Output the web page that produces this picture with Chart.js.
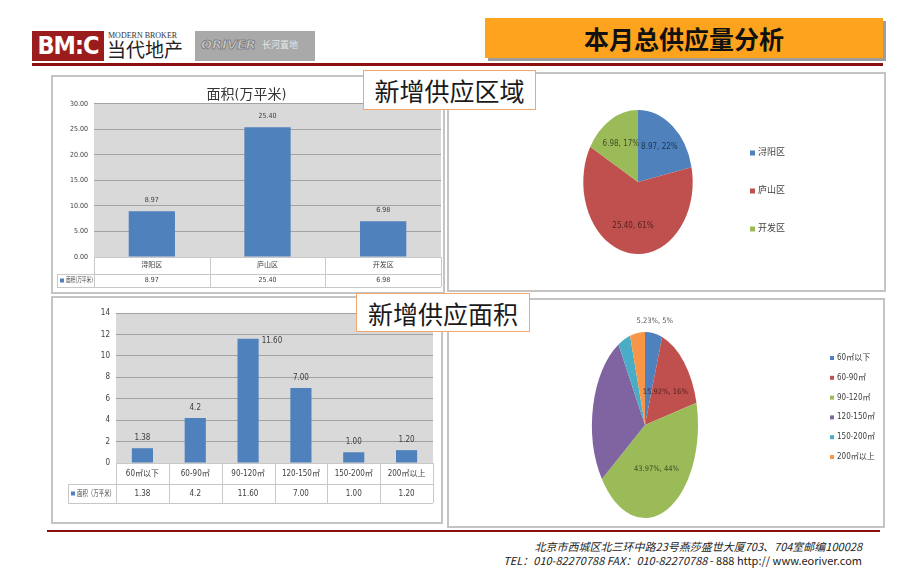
<!DOCTYPE html>
<html>
<head>
<meta charset="utf-8">
<script src="https://cdn.jsdelivr.net/npm/chart.js@4"></script>
<style>
  body { margin:0; width:920px; height:585px; background:#fff; position:relative; overflow:hidden; font-family:"Noto Sans CJK SC", sans-serif; }
  .abs { position:absolute; }
  .panel { position:absolute; border:2px solid #c4c4c4; box-sizing:border-box; background:#fff; }
  .tag { position:absolute; background:#fff; border:1px solid #f2a66b; font-size:25px; line-height:38px; text-align:center; color:#1a1a1a; box-sizing:border-box; }
  canvas { position:absolute; }
</style>
</head>
<body>
<!-- header -->
<div class="abs" style="left:32px;top:31px;width:72px;height:30px;background:#9b1c1c;color:#fff;font:bold 25px/30px 'DejaVu Sans Condensed',sans-serif;text-align:center;letter-spacing:-1px;">BM:C</div>
<div class="abs" style="left:108px;top:31px;font:8px/9px 'Liberation Serif',serif;color:#333;">MODERN BROKER</div>
<div class="abs" style="left:107px;top:38px;font:19px/22px 'Noto Sans CJK SC',sans-serif;color:#222;">当代地产</div>
<div class="abs" style="left:195px;top:31px;width:120px;height:30px;background:#a9a9a9;">
  <span class="abs" style="left:6px;top:6px;font:italic bold 13px/16px 'DejaVu Sans',sans-serif;color:#c8c8c8;-webkit-text-stroke:0.5px #555;">ORIVER</span>
  <span class="abs" style="left:67px;top:7px;font:9px/14px 'Noto Sans CJK SC',sans-serif;color:#e6e6e6;">长河置地</span>
</div>
<div class="abs" style="left:485px;top:18px;width:398px;height:40px;background:#fda31d;box-shadow:3px 3px 0 #9d9d9d;text-align:center;font:bold 25px/40px 'Noto Sans CJK SC',sans-serif;color:#111;">本月总供应量分析</div>
<div class="abs" style="left:32px;top:63px;width:851px;height:3px;background:#8c1010;"></div>

<!-- panels -->
<div class="panel" style="left:51px;top:75px;width:394px;height:219px;"></div>
<div class="panel" style="left:447px;top:72px;width:439px;height:220px;"></div>
<div class="panel" style="left:51px;top:296px;width:392px;height:228px;"></div>
<div class="panel" style="left:447px;top:298px;width:438px;height:230px;"></div>

<canvas id="barDistrict" width="392" height="216" style="left:52px;top:76px;"></canvas>
<canvas id="pieDistrict" width="437" height="218" style="left:448px;top:73px;"></canvas>
<canvas id="barSize" width="390" height="226" style="left:52px;top:297px;"></canvas>
<canvas id="pieSize" width="436" height="228" style="left:448px;top:299px;"></canvas>

<div class="tag" style="left:363px;top:70px;width:173px;height:40px;">新增供应区域</div>
<div class="tag" style="left:356px;top:293px;width:174px;height:39px;">新增供应面积</div>

<!-- footer -->
<div class="abs" style="left:47px;top:530px;width:833px;height:2px;background:#8c1010;"></div>
<div class="abs" style="right:58px;top:539px;font:italic 11px/15px 'Noto Sans CJK SC',sans-serif;color:#222;white-space:nowrap;">北京市西城区北三环中路23号燕莎盛世大厦703、704室邮编100028</div>
<div class="abs" style="right:58px;top:553px;font:11px/15px 'Noto Sans CJK SC',sans-serif;color:#222;white-space:nowrap;"><i>TEL：010-82270788 FAX：010-82270788</i> - 888 http:// www.eoriver.com</div>

<script>
// data
const districts = ['浔阳区', '庐山区', '开发区'];
const districtArea = [8.97, 25.40, 6.98];
const districtAreaText = ['8.97', '25.40', '6.98'];

const sizeBands = ['60㎡以下', '60-90㎡', '90-120㎡', '120-150㎡', '150-200㎡', '200㎡以上'];
const sizeArea = [1.38, 4.2, 11.60, 7.00, 1.00, 1.20];
const sizeAreaText = ['1.38', '4.2', '11.60', '7.00', '1.00', '1.20'];
const sizeShare = [5.23, 15.92, 43.97, 26.54, 3.79, 4.55];
const sizeShareShown = [true, true, true, false, false, false];

const seriesDistrict = '面积(万平米)';
const seriesSize = '面积（万平米）';

const palette = ['#4f81bd', '#c0504d', '#9bbb59', '#8064a2', '#4bacc6', '#f79646'];
const NARROW = '"Liberation Sans Narrow","DejaVu Sans Condensed","Noto Sans CJK SC",sans-serif';

Chart.defaults.font.family = NARROW;
Chart.defaults.color = '#404040';

// grey plot background
const plotBg = {
  id: 'plotBg',
  beforeDraw(chart) {
    const { ctx, chartArea: a } = chart;
    ctx.save();
    ctx.fillStyle = '#d9d9d9';
    ctx.fillRect(a.left, a.top, a.right - a.left, a.bottom - a.top);
    ctx.restore();
  }
};

// data table under the bars
const barTable = {
  id: 'barTable',
  afterDraw(chart, args, o) {
    const { ctx, chartArea: a, scales: { x } } = chart;
    const n = chart.data.labels.length;
    const w = (a.right - a.left) / n;
    const y0 = a.bottom, y1 = y0 + o.row1, y2 = y1 + o.row2, lx = a.left - o.legendW;
    ctx.save();
    ctx.strokeStyle = '#c8c8c8';
    ctx.lineWidth = 1;
    ctx.beginPath();
    ctx.moveTo(a.left, y0 + 0.5); ctx.lineTo(a.right, y0 + 0.5);
    ctx.moveTo(lx, y1 + 0.5); ctx.lineTo(a.right, y1 + 0.5);
    ctx.moveTo(lx, y2 + 0.5); ctx.lineTo(a.right, y2 + 0.5);
    ctx.moveTo(lx + 0.5, y1); ctx.lineTo(lx + 0.5, y2);
    for (let i = 0; i <= n; i++) {
      const px = Math.round(a.left + i * w) + 0.5;
      ctx.moveTo(px, y0); ctx.lineTo(px, y2);
    }
    ctx.stroke();
    const ds = chart.data.datasets[0];
    const my = (y1 + y2) / 2;
    ctx.fillStyle = ds.backgroundColor;
    ctx.fillRect(lx + 3, my - 2, 4, 4);
    ctx.fillStyle = '#404040';
    ctx.font = o.font;
    ctx.textBaseline = 'middle';
    ctx.textAlign = 'left';
    ctx.fillText(ds.label, lx + 9, my, o.legendW - 10);
    ctx.textAlign = 'center';
    o.texts.forEach((t, i) => ctx.fillText(t, x.getPixelForValue(i), my));
    ctx.restore();
  }
};

// value labels on bars
const barLabels = {
  id: 'barLabels',
  afterDatasetsDraw(chart, args, o) {
    const { ctx } = chart;
    const ds = chart.data.datasets[0];
    const max = Math.max(...ds.data);
    ctx.save();
    ctx.font = o.font;
    ctx.fillStyle = '#404040';
    ctx.textBaseline = 'middle';
    chart.getDatasetMeta(0).data.forEach((bar, i) => {
      if (o.sideMax && ds.data[i] === max) {
        ctx.textAlign = 'left';
        ctx.fillText(o.texts[i], bar.x + bar.width / 2 + 3, bar.y + 2);
      } else {
        ctx.textAlign = 'center';
        ctx.fillText(o.texts[i], bar.x, bar.y - o.gap);
      }
    });
    ctx.restore();
  }
};

function makeBar(id, labels, values, texts, name, yMax, yStep, fmt, g) {
  return new Chart(document.getElementById(id), {
    type: 'bar',
    data: {
      labels,
      datasets: [{ label: name, data: values, backgroundColor: '#4f81bd', categoryPercentage: 1, barPercentage: 0.4 }]
    },
    options: {
      responsive: false,
      animation: false,
      layout: { autoPadding: false, padding: { left: 0, right: g.right, top: g.top, bottom: g.bottom } },
      plugins: {
        legend: { display: false },
        tooltip: { enabled: false },
        title: g.title ? { display: true, text: g.title, font: { size: 14, weight: 'normal' }, color: '#333', padding: { top: 11, bottom: 0 } } : { display: false },
        barTable: { row1: g.row1, row2: g.row2, legendW: g.legendW, texts, font: g.font },
        barLabels: { texts, font: g.font, gap: g.gap, sideMax: g.sideMax }
      },
      scales: {
        x: {
          grid: { display: false, drawTicks: false },
          border: { display: false },
          ticks: { font: { size: g.fontSize }, padding: g.xPad, maxRotation: 0, autoSkip: false },
          afterFit(s) { s.height = g.row1 + g.row2; }
        },
        y: {
          min: 0, max: yMax,
          ticks: { stepSize: yStep, callback: fmt, font: { size: g.tickSize }, padding: 6 },
          grid: { color: '#a3a3a3', drawTicks: false },
          border: { display: false },
          afterFit(s) { s.width = g.left; }
        }
      }
    },
    plugins: [plotBg, barTable, barLabels]
  });
}

makeBar('barDistrict', districts, districtArea, districtAreaText, seriesDistrict, 30, 5, v => v.toFixed(2), {
  title: '面积(万平米)', left: 42, right: 3, top: 0, bottom: 5, row1: 17, row2: 13, legendW: 37,
  font: '7px ' + NARROW, fontSize: 7, tickSize: 7, xPad: 4, gap: 11, sideMax: false
});

makeBar('barSize', sizeBands, sizeArea, sizeAreaText, seriesSize, 14, 2, v => v, {
  title: null, left: 64, right: 9, top: 16, bottom: 20, row1: 21, row2: 19, legendW: 48,
  font: '8px ' + NARROW, fontSize: 8, tickSize: 8, xPad: 6, gap: 10, sideMax: true
});

// pie squashed horizontally like the slide
const squash = {
  id: 'squash',
  beforeDatasetsDraw(chart, args, o) {
    const arc = chart.getDatasetMeta(0).data[0];
    const ctx = chart.ctx;
    ctx.save();
    ctx.translate(arc.x, arc.y);
    ctx.scale(o.sx, 1);
    ctx.translate(-arc.x, -arc.y);
  },
  afterDatasetsDraw(chart) { chart.ctx.restore(); }
};

function shade(hex, k) {
  const n = parseInt(hex.slice(1), 16);
  const r = Math.round((n >> 16) * k), g = Math.round(((n >> 8) & 255) * k), b = Math.round((n & 255) * k);
  return `rgb(${r},${g},${b})`;
}

const pieLabels = {
  id: 'pieLabels',
  afterDraw(chart, args, o) {
    const { ctx } = chart;
    const ds = chart.data.datasets[0];
    const total = ds.data.reduce((s, v) => s + v, 0);
    ctx.save();
    ctx.font = o.font;
    ctx.textAlign = 'center';
    ctx.textBaseline = 'middle';
    chart.getDatasetMeta(0).data.forEach((arc, i) => {
      if (o.shown && !o.shown[i]) return;
      const pct = ds.data[i] / total;
      const mid = (arc.startAngle + arc.endAngle) / 2;
      const outside = pct < 0.1;
      const f = outside ? 1.13 : o.inner;
      const x = arc.x + Math.cos(mid) * arc.outerRadius * f * o.sx;
      const y = arc.y + Math.sin(mid) * arc.outerRadius * f;
      ctx.fillStyle = outside ? '#595959' : shade(ds.backgroundColor[i], 0.42);
      ctx.fillText(o.text(ds.data[i], pct), x, y);
    });
    ctx.restore();
  }
};

const pieLegend = {
  id: 'pieLegend',
  afterDraw(chart, args, o) {
    const { ctx } = chart;
    const ds = chart.data.datasets[0];
    ctx.save();
    ctx.font = o.font;
    ctx.textBaseline = 'middle';
    ctx.textAlign = 'left';
    chart.data.labels.forEach((l, i) => {
      const y = o.y + i * o.gap;
      ctx.fillStyle = ds.backgroundColor[i];
      ctx.fillRect(o.x, y - o.box / 2, o.box, o.box);
      ctx.fillStyle = '#404040';
      ctx.fillText(l, o.x + o.box + 3, y);
    });
    ctx.restore();
  }
};

function makePie(id, labels, values, pad, sx, labelOpts, legendOpts) {
  return new Chart(document.getElementById(id), {
    type: 'pie',
    data: {
      labels,
      datasets: [{ data: values, backgroundColor: palette.slice(0, values.length), borderWidth: 0, hoverOffset: 0, offset: 0 }]
    },
    options: {
      responsive: false,
      animation: false,
      layout: { padding: pad },
      plugins: {
        legend: { display: false },
        tooltip: { enabled: false },
        squash: { sx },
        pieLabels: Object.assign({ sx }, labelOpts),
        pieLegend: legendOpts
      }
    },
    plugins: [squash, pieLabels, pieLegend]
  });
}

makePie('pieDistrict', districts, districtArea, { left: 118, right: 175, top: 37, bottom: 37 }, 0.76,
  { font: '8px ' + NARROW, inner: 0.62, text: (v, p) => `${v.toFixed(2)}, ${Math.round(p * 100)}%` },
  { x: 302, y: 80, gap: 38, box: 5, font: '9px ' + NARROW });

makePie('pieSize', sizeBands, sizeShare, { left: 104, right: 146, top: 33, bottom: 9 }, 0.57,
  { font: '7.5px ' + NARROW, inner: 0.52, shown: sizeShareShown, text: (v, p) => `${v.toFixed(2)}%, ${Math.round(p * 100)}%` },
  { x: 382, y: 59, gap: 19.8, box: 4, font: '8px ' + NARROW });
</script>
</body>
</html>
